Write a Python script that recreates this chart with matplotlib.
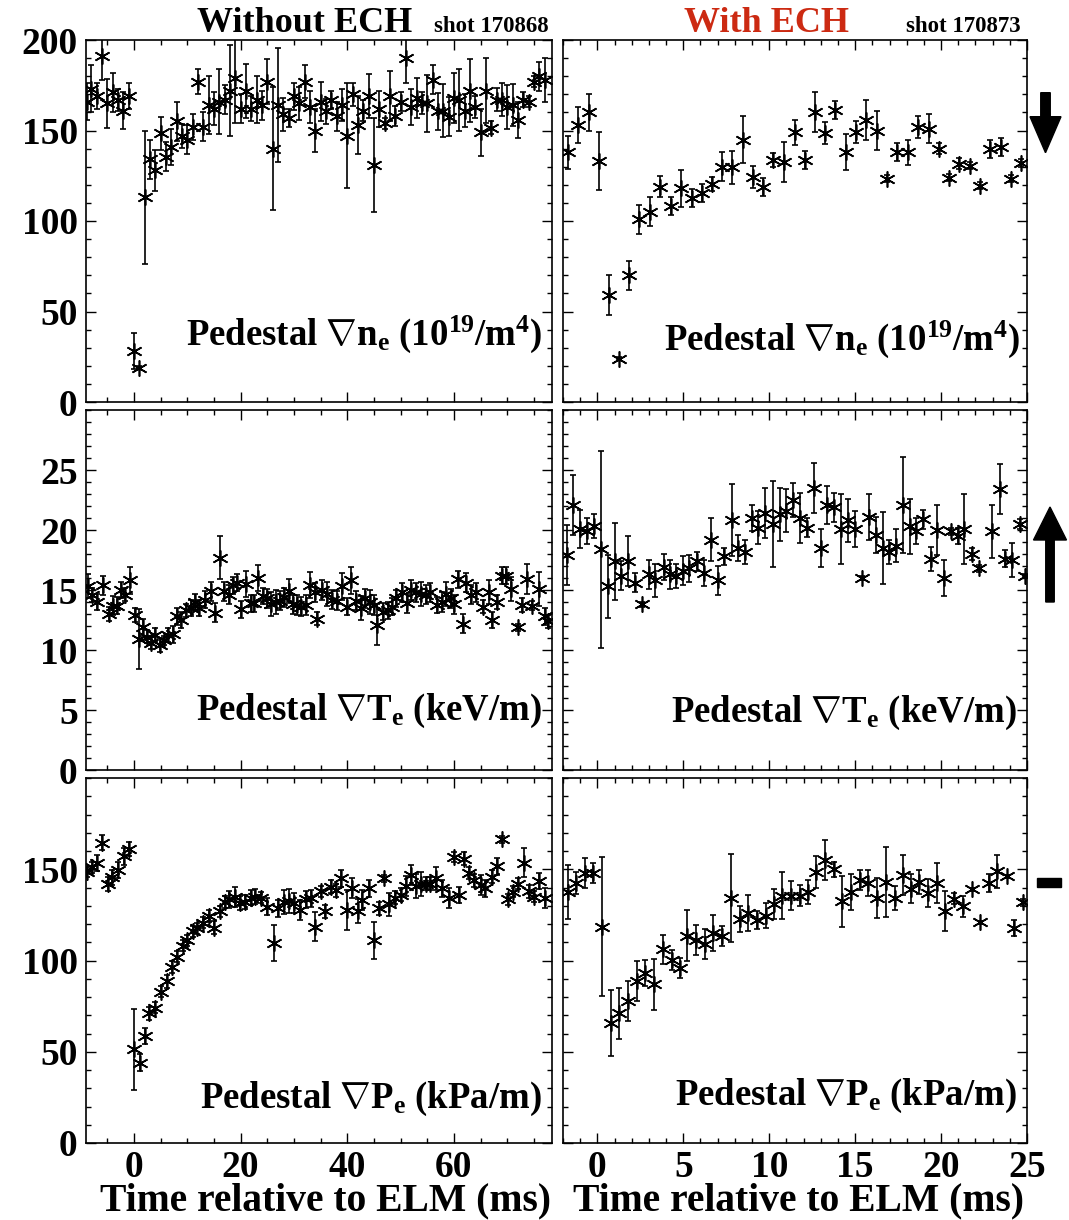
import numpy as np
import matplotlib
matplotlib.use('Agg')
import matplotlib.pyplot as plt
from matplotlib.ticker import MultipleLocator
from matplotlib.patches import FancyArrow, Rectangle

plt.rcParams['font.family'] = ['Liberation Serif', 'DejaVu Serif']
plt.rcParams['font.weight'] = 'bold'
plt.rcParams['mathtext.fontset'] = 'custom'
plt.rcParams['mathtext.rm'] = 'Liberation Serif:bold'
plt.rcParams['mathtext.it'] = 'Liberation Serif:bold:italic'
plt.rcParams['mathtext.bf'] = 'Liberation Serif:bold'

# ---- shot 170868, without ECH ----
ne_t_no = [-8.8, -8, -7, -6, -5, -4, -3, -2, -1, 0, 1, 2, 3, 4, 5, 6, 7, 8, 9, 10,
           11, 12, 13, 14, 15, 16, 17, 18, 19, 20, 21, 22, 23, 24, 25, 26, 27, 28, 29, 30,
           31, 32, 33, 34, 35, 36, 37, 38, 39, 40, 41, 42, 43, 44, 45, 46, 47, 48, 49, 50,
           51, 52, 53, 54, 55, 56, 57, 58, 59, 60, 61, 62, 63, 64, 65, 66, 67, 68, 69, 70,
           71, 72, 73, 74, 75, 76, 77]
ne_no = [166, 173, 169, 191, 165, 171, 167, 161, 169, 28, 19, 113, 134, 128, 148.5, 135.5, 141, 155, 147, 145,
         152, 177, 152, 164, 162, 166, 167, 172, 179, 162, 172, 162, 167, 164, 177, 140, 164, 159, 157, 169,
         165, 177, 163, 150, 166, 160.5, 167, 158, 164, 147, 170, 153, 161, 169, 131, 162, 154, 169, 158, 166,
         190, 163, 168, 165, 165, 178, 160.5, 161, 157.7, 168, 167, 161, 172, 163, 149, 172, 151.5, 167, 167, 163,
         164, 156, 167, 166, 177, 180, 178]
ne_err_no = [10, 13, 7, 13, 13.5, 11, 6, 10, 7, 10, 1, 37, 11, 11.5, 9, 8, 10, 11, 6.5, 8,
             7, 7, 8, 16, 9, 18, 8, 25, 25, 8, 15, 7, 13, 8, 12.6, 34, 31.6, 9, 5, 7.5,
             9, 9, 9, 12, 11, 7, 5, 8, 9, 29, 6.5, 16, 6, 12, 26, 10, 3, 14, 5.5, 5.5,
             14, 10, 11, 6, 15.6, 8, 10, 14.7, 10.6, 14, 17, 9, 17.5, 6, 13, 18, 3.5, 6.5, 9, 12,
             11.5, 10, 4, 3, 3, 8, 12]

te_t_no = [-8.6, -7.9, -6.9, -5.8, -4.75, -3.9, -3.1, -2.4, -1.6, -0.7, 0.1, 0.9, 1.7, 2.4, 3.1, 4.0, 4.8, 5.6,
           6.4, 7.3, 8.1, 8.9, 9.8, 10.75, 11.5, 12.1, 13.25, 14.4, 15.25, 16.2, 16.8, 17.75, 18.6, 19.4,
           20.1, 21.1, 21.9, 22.5, 23.25, 24.2, 25, 25.75, 26.6, 27.3, 28.1, 29.0, 29.8, 30.6, 31.4, 32.2,
           33.1, 33.9, 34.4, 35.3, 36.25, 37.2, 38.1, 39.1, 40.0, 40.75, 41.6, 42.5, 43.3, 44.2, 45.0, 45.6,
           46.7, 47.6, 48.4, 49.2, 50.2, 51.25, 51.9, 52.8, 53.75, 54.7, 55.6, 56.9, 57.8, 58.6, 59.4, 60.1,
           60.8, 61.7, 62.2, 63.25, 64.1, 65.4, 66.6, 67.2, 68.0, 69.0, 69.8, 70.75, 72.1, 72.8, 73.75, 74.6,
           76.0, 77.1, 77.6]
te_no = [15.3, 14.6, 14.0, 15.4, 13.0, 13.7, 13.7, 15.0, 14.6, 15.8, 12.9, 10.9, 11.9, 11.1, 10.6, 11.25, 10.4, 10.8,
         11.25, 11.3, 12.8, 12.5, 13.3, 13.5, 14.0, 13.5, 14.2, 14.9, 13.1, 17.7, 14.9, 14.6, 15.4, 15.6,
         13.4, 15.5, 13.9, 13.9, 16.0, 14.5, 14.3, 13.8, 14.0, 14.1, 14.4, 14.9, 13.8, 13.75, 13.6, 13.75,
         15.4, 14.8, 12.6, 15.0, 14.7, 14.2, 14.1, 15.3, 13.6, 15.8, 14.1, 13.5, 14.3, 14.0, 13.75, 12.1,
         13.2, 13.3, 13.6, 14.3, 14.8, 13.9, 15.0, 14.8, 14.7, 14.6, 14.8, 13.75, 14.0, 14.7, 14.3, 13.8,
         15.9, 12.2, 15.6, 14.6, 14.8, 13.6, 14.8, 12.5, 14.0, 16.2, 16.2, 15.1, 11.9, 13.75, 15.9, 13.7,
         15.1, 12.8, 12.4]
te_err_no = [1.0, 0.6, 0.7, 0.8, 0.55, 0.8, 0.7, 0.7, 0.55, 1.1, 0.6, 2.5, 0.7, 0.55, 0.55, 0.55, 0.6, 0.4,
             0.55, 0.7, 0.7, 0.7, 0.55, 0.7, 0.7, 0.7, 0.7, 0.8, 0.8, 1.8, 0.8, 0.8, 0.7, 0.7,
             0.7, 1.1, 0.7, 0.7, 1.1, 0.7, 0.8, 1.0, 1.0, 0.8, 0.8, 1.0, 0.8, 0.8, 0.8, 0.8,
             1.1, 0.8, 0.55, 0.8, 1.0, 0.8, 0.8, 1.1, 0.7, 1.1, 0.8, 1.0, 0.8, 1.0, 0.8, 1.7,
             0.7, 0.7, 0.7, 0.7, 0.8, 0.8, 0.8, 0.8, 1.0, 0.8, 0.8, 0.7, 0.8, 1.0, 0.8, 0.8,
             0.7, 0.8, 0.8, 0.8, 0.8, 0.55, 1.0, 0.7, 0.55, 0.7, 0.7, 1.0, 0.3, 0.55, 1.25, 0.4,
             1.4, 0.7, 0.55]

pe_t_no = [-8.75, -7.9, -6.9, -6, -4.9, -4.1, -3, -1.9, -0.9, 0, 1.1, 2.1, 2.9, 4, 5, 6.1, 7.1, 8.1, 9.1, 10,
           11.1, 11.9, 12.9, 14.1, 15.1, 16.1, 17, 17.9, 18.9, 19.9, 20.75, 21.9, 22.75, 23.75, 24.9, 26.2,
           27.1, 28.1, 29, 30.1, 31.1, 32.3, 33.25, 34, 35, 35.9, 37, 37.8, 38.9, 39.9, 40.8, 42.1, 42.8,
           44.1, 45.1, 45.9, 46.9, 47.8, 49, 50, 51.1, 51.9, 52.8, 53.75, 54.7, 55.6, 56.6, 57.8, 59.1, 60,
           60.9, 61.9, 62.9, 63.75, 65, 65.9, 67.2, 68.1, 69.1, 70.1, 71.1, 72.1, 73.1, 74.1, 75, 75.9, 77.1]
pe_no = [148.5, 151, 153.5, 164.5, 142, 145.5, 149.5, 157, 161, 51.3, 44, 58.5, 71, 74, 83, 88.5, 96.4, 102, 108, 111,
         116, 117.6, 120.7, 124.4, 118, 127, 132, 133.5, 135, 131.6, 132, 134.5, 135, 134.5, 129.5, 109.5,
         128.5, 132, 132.7, 131.6, 127.6, 133.5, 134, 118.5, 138, 127, 140.4, 138.5, 145, 127.6, 139.5, 127, 133,
         139.5, 111, 128.5, 145, 130.7, 134.5, 136, 140.7, 146.7, 141, 142, 142, 142, 145, 139.5, 134, 156.7,
         136, 155.8, 148, 144, 141.3, 139.5, 146, 151.6, 166.4, 133.5, 137.6, 142, 153.5, 138, 135, 143.6, 134.5]
pe_err_no = [3, 3, 4.5, 4, 4, 4, 4.5, 4.5, 4, 22, 4.5, 4.5, 3.5, 3, 3, 3.5, 3.5, 3, 3, 3,
             3, 3, 3, 3.5, 3.5, 3, 3.5, 4.5, 5.5, 4, 4, 4, 4, 3, 4.5, 10,
             4.5, 6.5, 6.5, 5.5, 5.5, 4.5, 4.5, 8, 3, 3.5, 3.5, 3.5, 4.5, 11, 5.5, 6.5, 5.5,
             4.5, 10, 3.5, 2, 6.5, 3.5, 3.5, 5.5, 5.5, 6.5, 6.5, 3.5, 3.5, 6.5, 4.5, 5.5, 3,
             4.5, 3.5, 3.5, 3.5, 5.5, 4.5, 3.5, 4.5, 2, 3, 3, 3, 8, 3.5, 3, 4.5, 5.5]

# ---- shot 170873, with ECH ----
ne_t_ech = [-1.72, -1.14, -0.5, 0.08, 0.66, 1.28, 1.86, 2.44, 3.04, 3.66, 4.27, 4.87, 5.49, 6.07, 6.65,
            7.23, 7.85, 8.45, 9.07, 9.65, 10.23, 10.87, 11.49, 12.07, 12.65, 13.23, 13.85, 14.45, 15.03,
            15.65, 16.27, 16.87, 17.45, 18.07, 18.65, 19.27, 19.86, 20.45, 21.03, 21.68, 22.26, 22.84,
            23.48, 24.06, 24.64]
ne_ech = [138, 153, 160, 133, 59, 24, 70, 101, 105, 119, 108.5, 118, 112.6, 115.4, 120.5,
          130, 129.7, 144.8, 124.2, 118.7, 133.8, 132.5, 149, 133.8, 160, 148.7, 161.4, 138, 149,
          156, 150, 123.3, 138, 138, 152, 151, 140, 124, 131.6, 130.6, 119.6, 140,
          140.7, 123.3, 132]
ne_err_ech = [9, 10, 10, 16, 11, 1, 8, 8, 8, 6, 5, 10, 5, 5, 4,
              8, 9, 13, 6, 5, 4, 11, 7, 5, 11, 6, 5, 10, 6,
              11, 11, 2, 5, 7, 6, 8, 3, 2, 3, 2, 2, 5,
              5, 2, 2]

te_t_ech = [-1.76, -1.41, -0.99, -0.6, -0.21, 0.21, 0.6, 1.0, 1.37, 1.78, 2.2, 2.6, 2.98, 3.38, 3.85,
            4.2, 4.58, 5.0, 5.36, 5.78, 6.2, 6.6, 7.04, 7.37, 7.81, 8.2, 8.59, 8.97, 9.36, 9.75,
            10.2, 10.6, 11.0, 11.4, 11.8, 12.2, 12.6, 13.0, 13.37, 13.77, 14.2, 14.6, 14.97, 15.4,
            15.8, 16.2, 16.6, 16.96, 17.4, 17.8, 18.2, 18.55, 18.97, 19.4, 19.75, 20.15, 20.6, 20.97,
            21.35, 21.8, 22.2, 22.96, 23.4, 23.7, 24.15, 24.6, 24.9]
te_ech = [17.9, 22.1, 20.1, 19.9, 20.3, 18.4, 15.3, 17.4, 16.2, 17.4, 15.6, 13.8, 16.3, 15.8, 16.9,
          16.3, 16.2, 16.6, 16.8, 17.4, 16.4, 19.2, 15.8, 17.8, 20.8, 18.5, 18.2, 21.0, 20.2, 21.4,
          20.5, 21.3, 21.6, 22.5, 21.0, 20.2, 23.5, 18.5, 22.1, 21.9, 20.1, 20.8, 20.1, 16.0,
          21.1, 19.6, 18.5, 18.2, 18.7, 22.1, 20.3, 19.9, 20.9, 17.6, 20.0, 16.0, 19.9, 19.5,
          20.1, 18.0, 16.8, 19.9, 23.4, 17.6, 17.5, 20.5, 16.2]
te_err_ech = [2.5, 2.5, 1.6, 1.1, 1.0, 8.2, 2.6, 3.2, 1.2, 2.1, 0.8, 0.2, 1.2, 1.4, 1.1,
              1.2, 1.0, 1.2, 1.1, 0.8, 1.1, 1.8, 1.2, 0.7, 3.0, 1.1, 1.0, 1.1, 1.4, 2.1,
              3.6, 2.2, 1.8, 1.4, 2.1, 0.8, 2.1, 1.6, 1.6, 1.2, 2.9, 1.8, 1.5, 0.15,
              1.9, 1.5, 3.0, 1.0, 1.4, 4.0, 2.3, 1.1, 0.8, 1.0, 2.1, 1.5, 0.3, 0.7,
              2.9, 0.5, 0.3, 2.2, 2.1, 0.7, 1.4, 0.4, 0.1]

pe_t_ech = [-1.72, -1.22, -0.73, -0.25, 0.27, 0.79, 1.28, 1.78, 2.3, 2.79, 3.3, 3.8, 4.33, 4.8, 5.24,
            5.74, 6.27, 6.75, 7.27, 7.78, 8.3, 8.78, 9.3, 9.79, 10.27, 10.75, 11.24, 11.78, 12.26,
            12.75, 13.27, 13.75, 14.25, 14.78, 15.26, 15.74, 16.29, 16.77, 17.29, 17.77, 18.26,
            18.74, 19.23, 19.75, 20.25, 20.73, 21.25, 21.78, 22.26, 22.77, 23.25, 23.83, 24.26, 24.74]
pe_ech = [137.5, 142.4, 148, 148, 118.5, 65.7, 71.2, 78, 88.7, 93.3, 86.9, 106.2, 100.1, 96, 113.5,
          111.2, 109, 115, 113.5, 134.2, 122.7, 125.9, 122.2, 124.6, 131, 135.6, 135.6, 135.6, 137.5,
          148.5, 155.3, 150, 132.5, 137.5, 143.9, 142.4, 134.3, 143, 134.2, 146.7, 139.3,
          143, 137, 142.4, 127, 133.8, 129.6, 139, 120.9, 142.4, 148.9, 146.1, 117.8, 131.9]
pe_err_ech = [15, 6, 8, 5.5, 38, 18, 14, 11, 11, 7, 14, 8, 5.5, 5.5, 14,
              8, 8, 10, 5.5, 24, 7, 10, 5, 7, 8, 13, 8, 5.5, 6.5,
              9, 11, 4, 14, 10, 5.5, 7, 11, 19, 6.5, 11, 8,
              6.5, 7.5, 11, 11, 3, 5.5, 1, 1, 5, 9, 1, 4.5, 2]

labels = [r'Pedestal $\nabla\mathrm{n}_\mathrm{e}$ (10$^{19}$/m$^{4}$)',
          r'Pedestal $\nabla\mathrm{T}_\mathrm{e}$ (keV/m)',
          r'Pedestal $\nabla\mathrm{P}_\mathrm{e}$ (kPa/m)']

W, H = 1069, 1220
fig = plt.figure(figsize=(W / 100, H / 100), dpi=100)


def px_rect(l, t, r, b):
    return [l / W, 1 - b / H, (r - l) / W, (b - t) / H]


cols = [(86, 552), (563, 1027)]
rows = [(40, 402), (410, 770), (778, 1143)]
xlims = [(-9.0, 78.4), (-2, 25)]
ylims = [(0, 200), (0, 30), (0, 200)]
ymin = [10, 1, 10]
yticks = [[0, 50, 100, 150, 200], [0, 5, 10, 15, 20, 25], [0, 50, 100, 150]]
xmaj = [20, 5]
xmin = [5, 1]
label_pos = [[(0.978, 0.157), (0.985, 0.144)],
             [(0.978, 0.139), (0.978, 0.133)],
             [(0.978, 0.096), (0.978, 0.104)]]

data = [[(ne_t_no, ne_no, ne_err_no), (ne_t_ech, ne_ech, ne_err_ech)],
        [(te_t_no, te_no, te_err_no), (te_t_ech, te_ech, te_err_ech)],
        [(pe_t_no, pe_no, pe_err_no), (pe_t_ech, pe_ech, pe_err_ech)]]

for i, (top, bot) in enumerate(rows):
    for j, (l, r) in enumerate(cols):
        ax = fig.add_axes(px_rect(l, top, r, bot))
        t, v, e = data[i][j]
        ax.errorbar(t, v, yerr=e, fmt='none', ecolor='k', elinewidth=1.2,
                    capsize=2.4, capthick=1.2)
        ax.plot(t, v, ls='none', marker=(6, 2, 0), ms=11.5, mew=1.2, color='k')
        ax.set_xlim(*xlims[j])
        ax.set_ylim(*ylims[i])
        ax.xaxis.set_major_locator(MultipleLocator(xmaj[j]))
        ax.xaxis.set_minor_locator(MultipleLocator(xmin[j]))
        ax.set_yticks(yticks[i])
        ax.yaxis.set_minor_locator(MultipleLocator(ymin[i]))
        ax.tick_params(which='both', direction='in', top=True, right=True, width=1.0,
                       labelsize=27, color='k')
        ax.tick_params(which='major', length=7)
        ax.tick_params(which='minor', length=3.5)
        ax.tick_params(axis='y', pad=6)
        ax.tick_params(axis='x', pad=5)
        for s in ax.spines.values():
            s.set_linewidth(1.2)
        if j == 1:
            ax.set_yticklabels([])
        if i < 2:
            ax.set_xticklabels([])
        lx, ly = label_pos[i][j]
        ax.text(lx, ly, labels[i], transform=ax.transAxes, ha='right', va='baseline',
                fontsize=26.5, fontweight='bold')

# titles
fig.text(305 / W, 1 - 32 / H, 'Without ECH', ha='center', va='baseline', fontsize=26, fontweight='bold')
fig.text(434 / W, 1 - 32 / H, 'shot 170868', ha='left', va='baseline', fontsize=16.5, fontweight='bold')
fig.text(767 / W, 1 - 32 / H, 'With ECH', ha='center', va='baseline', fontsize=26, fontweight='bold',
         color='#cc2a12')
fig.text(906 / W, 1 - 32 / H, 'shot 170873', ha='left', va='baseline', fontsize=16.5, fontweight='bold')

# x labels
fig.text(325 / W, 1 - 1210 / H, 'Time relative to ELM (ms)', ha='center', va='baseline',
         fontsize=28.5, fontweight='bold')
fig.text(798.5 / W, 1 - 1210 / H, 'Time relative to ELM (ms)', ha='center', va='baseline',
         fontsize=28.5, fontweight='bold')

# trend arrows at right margin
ov = fig.add_axes([0, 0, 1, 1], facecolor='none')
ov.set_xlim(0, W)
ov.set_ylim(H, 0)
ov.axis('off')
ov.add_patch(FancyArrow(1045.5, 92.7, 0, 60, width=9.5, head_width=31, head_length=36,
                        length_includes_head=True, color='k'))
ov.add_patch(FancyArrow(1050, 602, 0, -95, width=8.5, head_width=33, head_length=33,
                        length_includes_head=True, color='k'))
ov.add_patch(Rectangle((1037, 878), 23.5, 8.5, color='k'))

fig.savefig('out.png', dpi=100)
